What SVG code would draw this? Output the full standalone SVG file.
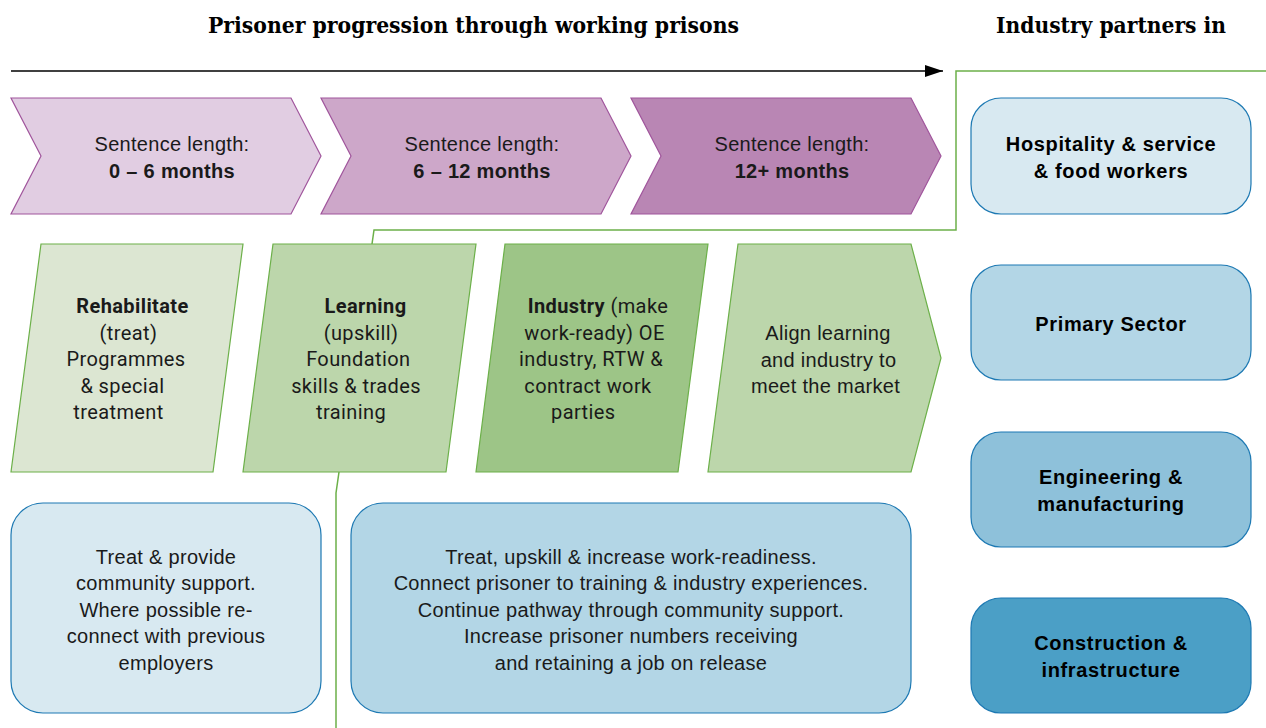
<svg xmlns="http://www.w3.org/2000/svg" width="1266" height="728" viewBox="0 0 1266 728">
  <defs>
    <marker id="arrowHead" viewBox="0 0 18 12" refX="18" refY="6" markerWidth="18" markerHeight="12" markerUnits="userSpaceOnUse" orient="auto">
      <path d="M0,0 L18,6 L0,12 Z" fill="#000"/>
    </marker>
    <style>
      .heading { font-family: "DejaVu Serif", "Liberation Serif", serif; font-weight: bold; font-size: 22px; fill: #000; }
      .chev { stroke: #a0559c; stroke-width: 1.2; }
      .para { stroke: #6cb049; stroke-width: 1.2; }
      .pill { stroke: #1d79b3; stroke-width: 1.2; }
      .sans { font-family: "Liberation Sans", Arial, sans-serif; font-size: 20px; fill: #1a1a1a; text-anchor: middle; letter-spacing: 0.3px; }
      .din { font-family: Roboto, "Liberation Sans", sans-serif; font-size: 20px; fill: #1a1a1a; text-anchor: middle; letter-spacing: 0.4px; }
      .b { font-weight: bold; }
      .sector { font-family: "Liberation Sans", Arial, sans-serif; font-size: 20px; font-weight: bold; fill: #000; text-anchor: middle; letter-spacing: 0.65px; }
      .link { fill: none; stroke: #6cb049; stroke-width: 1.5; }
    </style>
  </defs>
  <rect width="1266" height="728" fill="#fff"/>

  <!-- Headings -->
  <text class="heading" x="208" y="33" textLength="531" lengthAdjust="spacingAndGlyphs">Prisoner progression through working prisons</text>
  <text class="heading" x="996" y="33" textLength="230" lengthAdjust="spacingAndGlyphs">Industry partners in</text>

  <!-- Connectors -->
  <g id="connectors">
    <line x1="11" y1="71" x2="943" y2="71" stroke="#000" stroke-width="1.5" marker-end="url(#arrowHead)"/>
    <polyline class="link" points="372,244 374,230 956,230 956,71 1266,71"/>
    <polyline class="link" points="339,472 336,493 336,728"/>
  </g>

  <!-- Sentence length chevrons -->
  <g id="chevron-0-6">
    <polygon class="chev" fill="#e1cde2" points="11,98 291,98 321,156 291,214 11,214 41,156"/>
    <text class="sans" x="172" y="151">Sentence length:</text>
    <text class="sans b" x="172" y="178">0 – 6 months</text>
  </g>
  <g id="chevron-6-12">
    <polygon class="chev" fill="#cda7c9" points="321,98 601,98 631,156 601,214 321,214 351,156"/>
    <text class="sans" x="482" y="151">Sentence length:</text>
    <text class="sans b" x="482" y="178">6 – 12 months</text>
  </g>
  <g id="chevron-12-plus">
    <polygon class="chev" fill="#b986b4" points="631,98 911,98 941,156 911,214 631,214 661,156"/>
    <text class="sans" x="792" y="151">Sentence length:</text>
    <text class="sans b" x="792" y="178">12+ months</text>
  </g>

  <!-- Stages -->
  <g id="stage-rehabilitate">
    <polygon class="para" fill="#dce6d2" points="41,244 243,244 213,472 11,472"/>
    <text class="din b" x="132.5" y="313">Rehabilitate</text>
    <text class="din" x="128.5" y="339.5">(treat)</text>
    <text class="din" x="126" y="366">Programmes</text>
    <text class="din" x="122.5" y="392.5">&amp; special</text>
    <text class="din" x="118.5" y="419">treatment</text>
  </g>
  <g id="stage-learning">
    <polygon class="para" fill="#bcd6ab" points="273,244 476,244 446,472 243,472"/>
    <text class="din b" x="365.5" y="313">Learning</text>
    <text class="din" x="361" y="339.5">(upskill)</text>
    <text class="din" x="358.3" y="366">Foundation</text>
    <text class="din" x="356" y="392.5">skills &amp; trades</text>
    <text class="din" x="351" y="419">training</text>
  </g>
  <g id="stage-industry">
    <polygon class="para" fill="#9dc587" points="505,244 708,244 678,472 476,472"/>
    <text class="din" x="598" y="313"><tspan class="b">Industry</tspan> (make</text>
    <text class="din" x="594.5" y="339.5">work-ready) OE</text>
    <text class="din" x="591" y="366">industry, RTW &amp;</text>
    <text class="din" x="588" y="392.5">contract work</text>
    <text class="din" x="583.3" y="419">parties</text>
  </g>
  <g id="stage-align">
    <polygon class="para" fill="#bcd6ab" points="738,244 911,244 941,358 911,472 708,472"/>
    <text class="sans" x="828" y="340">Align learning</text>
    <text class="sans" x="828.5" y="366.5">and industry to</text>
    <text class="sans" x="825.5" y="393">meet the market</text>
  </g>

  <!-- Outcomes -->
  <g id="outcome-short">
    <rect class="pill" fill="#d8e9f1" x="11" y="503" width="310" height="210" rx="32"/>
    <text class="sans" x="166" y="563.5">Treat &amp; provide</text>
    <text class="sans" x="166" y="590">community support.</text>
    <text class="sans" x="166" y="616.5">Where possible re-</text>
    <text class="sans" x="166" y="643">connect with previous</text>
    <text class="sans" x="166" y="669.5">employers</text>
  </g>
  <g id="outcome-long">
    <rect class="pill" fill="#b3d6e6" x="351" y="503" width="560" height="210" rx="32"/>
    <text class="sans" x="631" y="563.5">Treat, upskill &amp; increase work-readiness.</text>
    <text class="sans" x="631" y="590">Connect prisoner to training &amp; industry experiences.</text>
    <text class="sans" x="631" y="616.5">Continue pathway through community support.</text>
    <text class="sans" x="631" y="643">Increase prisoner numbers receiving</text>
    <text class="sans" x="631" y="669.5">and retaining a job on release</text>
  </g>

  <!-- Industry partners -->
  <g id="partner-hospitality">
    <rect class="pill" fill="#d8e9f1" x="971" y="98" width="280" height="116" rx="30"/>
    <text class="sector" x="1111" y="151">Hospitality &amp; service</text>
    <text class="sector" x="1111" y="178">&amp; food workers</text>
  </g>
  <g id="partner-primary">
    <rect class="pill" fill="#b3d6e6" x="971" y="265" width="280" height="115" rx="30"/>
    <text class="sector" x="1111" y="331">Primary Sector</text>
  </g>
  <g id="partner-engineering">
    <rect class="pill" fill="#8ec1da" x="971" y="432" width="280" height="115" rx="30"/>
    <text class="sector" x="1111" y="483.5">Engineering &amp;</text>
    <text class="sector" x="1111" y="510.5">manufacturing</text>
  </g>
  <g id="partner-construction">
    <rect class="pill" fill="#4b9fc6" x="971" y="598" width="280" height="115" rx="30"/>
    <text class="sector" x="1111" y="650">Construction &amp;</text>
    <text class="sector" x="1111" y="676.5">infrastructure</text>
  </g>
</svg>
